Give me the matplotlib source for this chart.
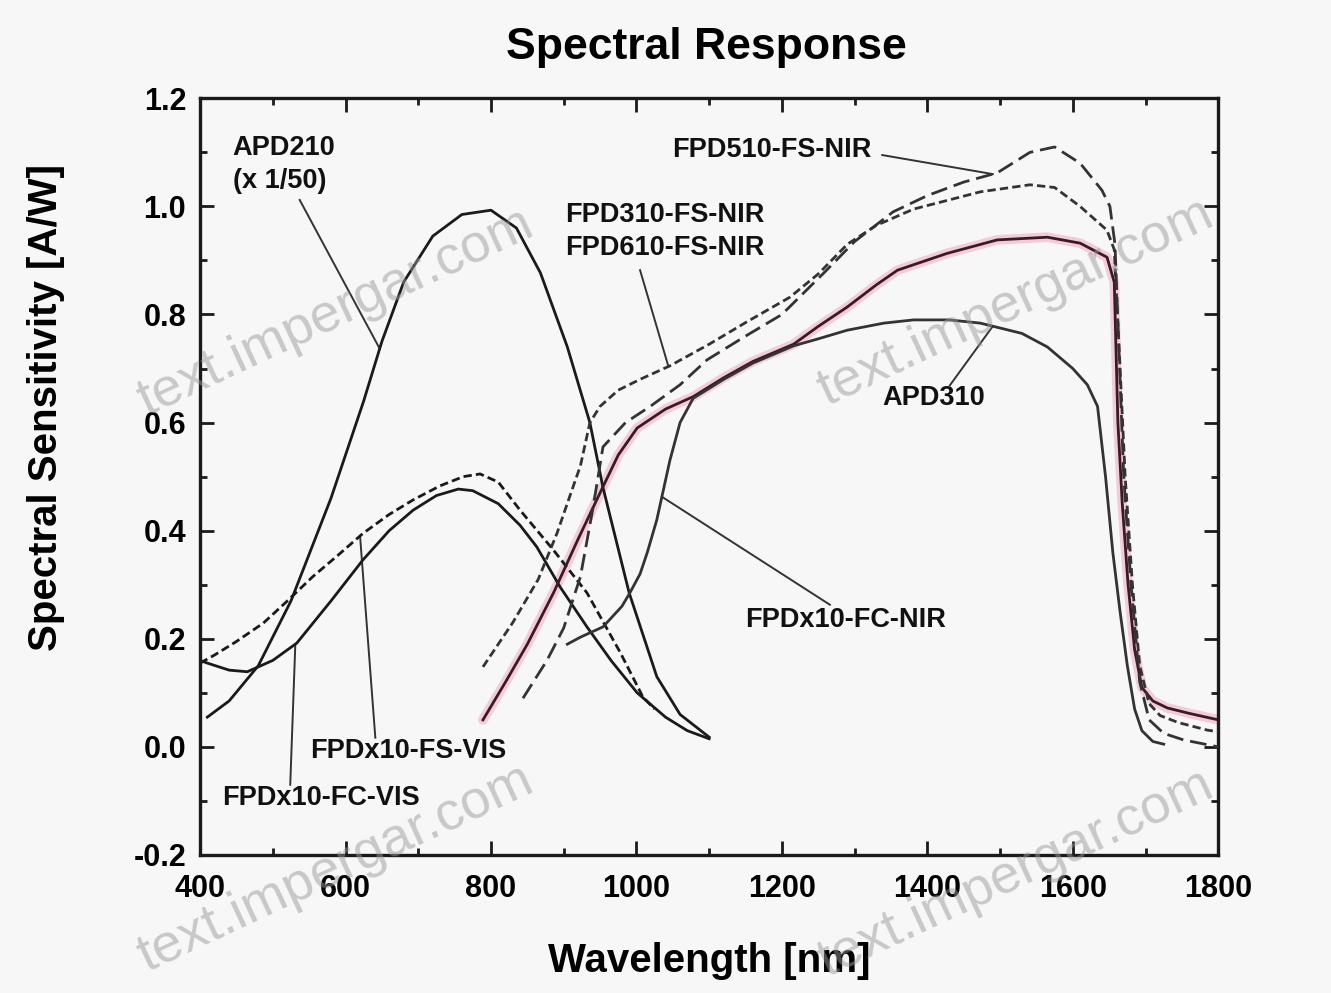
# Spectral response of photodetectors, redrawn from the reference picture

import numpy as np
import matplotlib
matplotlib.use('Agg')
import matplotlib.pyplot as plt
from matplotlib.ticker import MultipleLocator, FormatStrFormatter

plt.rcParams['font.family'] = ['Liberation Sans', 'DejaVu Sans']
plt.rcParams['font.weight'] = 'bold'

# Data (wavelength in nm, sensitivity in A/W)

apd210_wl = [410, 440, 480, 525, 580, 625, 650, 680, 720, 760, 800, 835, 868, 905, 936, 954, 990, 1028, 1060, 1100]
apd210_s = [0.055, 0.085, 0.15, 0.27, 0.46, 0.64, 0.75, 0.86, 0.945, 0.985, 0.993, 0.96, 0.877, 0.74, 0.6, 0.48, 0.285, 0.13, 0.06, 0.018]

fcvis_wl = [400, 410, 440, 465, 500, 533, 580, 624, 660, 693, 725, 755, 775, 810, 840, 863, 895, 932, 965, 1001, 1040, 1070, 1100]
fcvis_s = [0.16, 0.155, 0.142, 0.139, 0.16, 0.192, 0.27, 0.346, 0.40, 0.438, 0.465, 0.477, 0.474, 0.45, 0.41, 0.37, 0.296, 0.222, 0.16, 0.1, 0.055, 0.03, 0.015]

fsvis_wl = [400, 420, 450, 487, 520, 555, 590, 624, 660, 693, 730, 762, 785, 810, 840, 886, 932, 978, 1009, 1025]
fsvis_s = [0.155, 0.17, 0.195, 0.229, 0.27, 0.315, 0.355, 0.395, 0.43, 0.457, 0.483, 0.5, 0.505, 0.49, 0.438, 0.364, 0.285, 0.174, 0.092, 0.07]

# solid NIR curve that starts at 790 nm and ends on the 0.94 plateau
fcnir_wl = [789, 820, 850, 886, 920, 950, 975, 1001, 1040, 1078, 1120, 1160, 1216, 1250, 1290, 1330, 1359, 1427, 1496, 1565, 1610, 1647,
            1657, 1662, 1668, 1676, 1685, 1695, 1710, 1730, 1760, 1800]
fcnir_s = [0.05, 0.12, 0.19, 0.285, 0.385, 0.47, 0.54, 0.59, 0.625, 0.648, 0.683, 0.713, 0.745, 0.778, 0.814, 0.855, 0.882, 0.913, 0.938, 0.943, 0.932, 0.906,
           0.86, 0.6, 0.45, 0.3, 0.18, 0.11, 0.085, 0.072, 0.062, 0.05]

# solid NIR curve with the bump near 1000 nm (APD310)
apd310_wl = [905, 923, 954, 980, 991, 1005, 1015, 1028, 1046, 1060, 1078, 1120, 1160, 1216, 1250, 1290, 1340, 1381, 1430, 1473, 1530, 1565, 1600,
             1620, 1634, 1645, 1655, 1665, 1675, 1685, 1695, 1710, 1725]
apd310_s = [0.19, 0.203, 0.222, 0.26, 0.285, 0.32, 0.36, 0.42, 0.53, 0.6, 0.645, 0.68, 0.71, 0.742, 0.755, 0.771, 0.784, 0.79, 0.79, 0.784, 0.765, 0.74, 0.70,
            0.67, 0.63, 0.5, 0.36, 0.25, 0.15, 0.07, 0.03, 0.01, 0.005]

fpd310_wl = [789, 830, 865, 891, 910, 923, 936, 950, 975, 1005, 1046, 1100, 1150, 1211, 1250, 1290, 1330, 1381, 1430, 1473, 1541, 1575, 1610, 1647,
             1657, 1665, 1672, 1682, 1692, 1705, 1720, 1745, 1785, 1800]
fpd310_s = [0.148, 0.23, 0.31, 0.396, 0.47, 0.52, 0.6, 0.63, 0.66, 0.68, 0.705, 0.745, 0.785, 0.832, 0.875, 0.93, 0.965, 0.995, 1.012, 1.027, 1.04, 1.035, 1.0, 0.956,
            0.92, 0.7, 0.5, 0.3, 0.15, 0.08, 0.058, 0.045, 0.031, 0.028]

fpd510_wl = [844, 877, 900, 923, 940, 954, 985, 1019, 1060, 1097, 1150, 1200, 1260, 1300, 1353, 1400, 1450, 1496, 1541, 1575, 1610, 1640,
             1651, 1658, 1663, 1670, 1680, 1692, 1705, 1725, 1752, 1800]
fpd510_s = [0.09, 0.16, 0.22, 0.315, 0.44, 0.555, 0.6, 0.63, 0.67, 0.716, 0.76, 0.80, 0.88, 0.935, 0.99, 1.02, 1.045, 1.062, 1.1, 1.11, 1.08, 1.03,
            1.0, 0.93, 0.75, 0.5, 0.3, 0.12, 0.05, 0.025, 0.013, 0.0]

x_ticks = [400, 600, 800, 1000, 1200, 1400, 1600, 1800]
y_ticks = [-0.2, 0.0, 0.2, 0.4, 0.6, 0.8, 1.0, 1.2]

ink = '#1a1a1a'

fig = plt.figure(figsize=(13.31, 9.93), dpi=100, facecolor='#f7f7f7')
ax = fig.add_axes([0.1503, 0.139, 0.765, 0.762])
ax.set_facecolor('#f7f7f7')

# pink halo seen on one NIR curve
ax.plot(fcnir_wl, fcnir_s, '-', color='#f2a9c0', lw=7, alpha=0.55, solid_capstyle='round', zorder=1)

ax.plot(apd210_wl, apd210_s, '-', color=ink, lw=2.0, zorder=3)
ax.plot(fcvis_wl, fcvis_s, '-', color=ink, lw=2.0, zorder=3)
ax.plot(fsvis_wl, fsvis_s, '--', color=ink, lw=2.0, dashes=(3, 1.5), zorder=3)
ax.plot(fcnir_wl, fcnir_s, '-', color='#3a1a26', lw=2.0, zorder=3)
ax.plot(apd310_wl, apd310_s, '-', color='#333333', lw=2.0, zorder=3)
ax.plot(fpd310_wl, fpd310_s, '--', color='#333333', lw=2.0, dashes=(3, 1.5), zorder=3)
ax.plot(fpd510_wl, fpd510_s, '--', color='#333333', lw=2.0, dashes=(6, 2.5), zorder=3)

# text labels with pointer lines; the pointer tip sits on its curve
labels = [
    ('APD210\n(x 1/50)', (445, 1.132), 'top', (537, 1.012), 647, apd210_wl, apd210_s),
    ('FPD510-FS-NIR', (1049, 1.104), 'center', (1338, 1.095), 1490, fpd510_wl, fpd510_s),
    ('FPD310-FS-NIR\nFPD610-FS-NIR', (902, 1.008), 'top', (1005, 0.882), 1044, fpd310_wl, fpd310_s),
    ('APD310', (1338, 0.645), 'center', (1431, 0.669), 1490, apd310_wl, apd310_s),
    ('FPDx10-FC-NIR', (1150, 0.235), 'center', (1266, 0.263), 1035, apd310_wl, apd310_s),
    ('FPDx10-FS-VIS', (551, -0.007), 'center', (641, 0.017), 620, fsvis_wl, fsvis_s),
    ('FPDx10-FC-VIS', (430, -0.094), 'center', (524, -0.07), 531, fcvis_wl, fcvis_s),
]
for txt, pos, va, start, tip_wl, cx, cy in labels:
    ax.text(pos[0], pos[1], txt, fontsize=19.5, fontweight='bold', color='#111111',
            ha='left', va=va, linespacing=1.35, zorder=5)
    tip = (tip_wl, np.interp(tip_wl, cx, cy))
    ax.plot([start[0], tip[0]], [start[1], tip[1]], '-', color='#333333', lw=1.4, zorder=2)

ax.set_xlim(400, 1800)
ax.set_ylim(-0.2, 1.2)
ax.set_xticks(x_ticks)
ax.set_yticks(y_ticks)
ax.xaxis.set_minor_locator(MultipleLocator(100))
ax.yaxis.set_minor_locator(MultipleLocator(0.1))
ax.yaxis.set_major_formatter(FormatStrFormatter('%.1f'))
ax.tick_params(which='both', direction='in', top=True, right=True, width=2, color=ink)
ax.tick_params(which='major', length=10, labelsize=22, pad=10)
ax.tick_params(axis='x', which='major', pad=14)
ax.tick_params(which='minor', length=5)
for lab in ax.get_xticklabels() + ax.get_yticklabels():
    lab.set_fontweight('bold')
for sp in ax.spines.values():
    sp.set_linewidth(2.4)
    sp.set_color(ink)

ax.set_xlabel('Wavelength [nm]', fontsize=29, fontweight='bold', labelpad=27)
ax.set_ylabel('Spectral Sensitivity [A/W]', fontsize=29, fontweight='bold', labelpad=40)
ax.yaxis.set_label_coords(-0.133, 0.592)
fig.text(0.531, 0.952, 'Spectral Response', fontsize=32, fontweight='bold', ha='center', va='center')

# watermark of the source site
for wx, wy in [(0.252, 0.685), (0.763, 0.695), (0.252, 0.125), (0.763, 0.12)]:
    fig.text(wx, wy, 'text.impergar.com', fontsize=39, color='#9a9a9a', alpha=0.5,
             rotation=25, ha='center', va='center', fontweight='normal', zorder=10)

fig.savefig('out.png', dpi=100, facecolor=fig.get_facecolor())
